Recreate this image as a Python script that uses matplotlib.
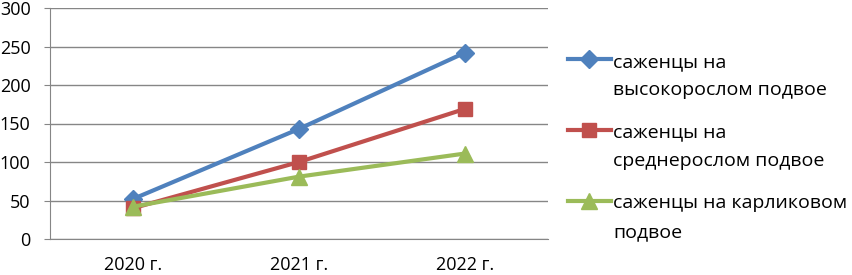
import matplotlib
matplotlib.use("Agg")
import matplotlib.pyplot as plt
from matplotlib.legend_handler import HandlerLine2D

years = ["2020 г.", "2021 г.", "2022 г."]
tall = [52, 143, 242]
medium = [40, 100, 169]
dwarf = [42, 81, 111]

series_labels = [
    "саженцы на\nвысокорослом подвое",
    "саженцы на\nсреднерослом подвое",
    "саженцы на карликовом\nподвое",
]

plt.rcParams['font.family'] = ['Open Sans', 'DejaVu Sans']

LEG_SIZE = 14
LEG_SPACING = 1.75


class TopLineHandler(HandlerLine2D):
    # put the legend key next to the first line of a two-line label
    def create_artists(self, legend, orig_handle, xdescent, ydescent,
                       width, height, fontsize, trans):
        arts = super().create_artists(legend, orig_handle, xdescent, ydescent,
                                      width, height, fontsize, trans)
        shift = fontsize * LEG_SPACING * 0.5
        for a in arts:
            a.set_ydata([y + shift for y in a.get_ydata()])
        return arts


fig = plt.figure(figsize=(8.53, 2.75), dpi=100)
ax = fig.add_axes([50 / 853, 1 - 239 / 275, 498 / 853, 231 / 275])

x = range(len(years))
ax.plot(x, tall, color='#4F81BD', lw=3, marker='D', ms=9, label=series_labels[0])
ax.plot(x, medium, color='#C0504D', lw=3, marker='s', ms=10, label=series_labels[1])
ax.plot(x, dwarf, color='#9BBB59', lw=3, marker='^', ms=11, label=series_labels[2])

ax.set_xlim(-0.5, 2.5)
ax.set_ylim(0, 300)
ax.set_yticks(range(0, 301, 50))
ax.set_xticks(list(x))
ax.set_xticklabels(years)
ax.grid(axis='y', color='#868686', lw=1)
ax.set_axisbelow(True)
for side in ['top', 'right']:
    ax.spines[side].set_visible(False)
for side in ['left', 'bottom']:
    ax.spines[side].set_color('#868686')
ax.tick_params(axis='y', length=4, color='#868686', labelsize=13, pad=10)
ax.tick_params(axis='x', length=0, labelsize=13, pad=12)

leg = fig.legend(loc='upper left', bbox_to_anchor=(560 / 853, 1 - 45 / 275),
                 frameon=False, fontsize=LEG_SIZE, handlelength=2.2,
                 handletextpad=0.15, labelspacing=1.25, borderaxespad=0,
                 handler_map={matplotlib.lines.Line2D: TopLineHandler()})
for t in leg.get_texts():
    t.set_linespacing(LEG_SPACING)

fig.savefig("out.png", dpi=100)
